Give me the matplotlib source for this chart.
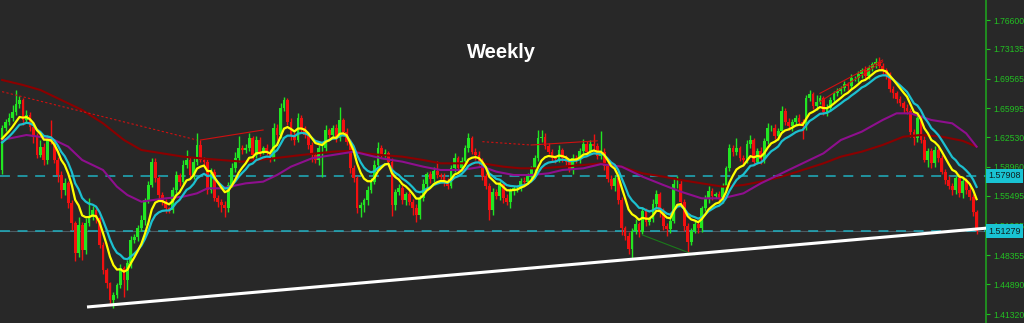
import matplotlib.pyplot as plt
import numpy as np

# weekly closes left to right (open = previous close)
first_open = 1.586
close_a = [1.636, 1.644, 1.648, 1.656, 1.665, 1.670, 1.646, 1.652, 1.638, 1.626,
           1.604, 1.614, 1.598, 1.622, 1.620, 1.598, 1.580, 1.562, 1.570, 1.546,
           1.522, 1.486, 1.520, 1.490, 1.522, 1.530, 1.538, 1.528, 1.496, 1.466,
           1.450, 1.430, 1.436, 1.448, 1.468]
close_b = [1.454, 1.474, 1.502, 1.506, 1.516, 1.526, 1.550, 1.568, 1.596, 1.576,
           1.556, 1.548, 1.540, 1.538, 1.562, 1.580, 1.572, 1.592, 1.598, 1.580,
           1.596, 1.616, 1.598, 1.596, 1.562, 1.584, 1.552, 1.548, 1.544, 1.540,
           1.568, 1.588, 1.600, 1.612]
close_c = [1.610, 1.612, 1.624, 1.604, 1.622, 1.608, 1.612, 1.608, 1.600, 1.636,
           1.628, 1.660, 1.670, 1.644, 1.627, 1.622, 1.648, 1.636, 1.628, 1.616,
           1.604, 1.598, 1.612, 1.612, 1.634, 1.628, 1.636, 1.624, 1.646, 1.632,
           1.620, 1.588, 1.576, 1.540]
close_d = [1.544, 1.550, 1.562, 1.572, 1.592, 1.612, 1.604, 1.606, 1.596, 1.544,
           1.560, 1.564, 1.550, 1.557, 1.548, 1.540, 1.532, 1.552, 1.569, 1.581,
           1.575, 1.585, 1.580, 1.578, 1.572, 1.567, 1.588, 1.600, 1.588, 1.597,
           1.612, 1.624, 1.608, 1.604, 1.596]
close_e = [1.579, 1.567, 1.538, 1.560, 1.555, 1.569, 1.552, 1.548, 1.561, 1.564,
           1.564, 1.573, 1.572, 1.579, 1.588, 1.600, 1.624, 1.626, 1.615, 1.608,
           1.600, 1.599, 1.610, 1.600, 1.596, 1.587, 1.600, 1.599, 1.609, 1.617,
           1.608, 1.617, 1.615, 1.603]
close_f = [1.608, 1.591, 1.575, 1.567, 1.576, 1.550, 1.516, 1.507, 1.491, 1.513,
           1.521, 1.512, 1.537, 1.524, 1.527, 1.545, 1.557, 1.536, 1.519, 1.515,
           1.525, 1.569, 1.569, 1.548, 1.519, 1.500, 1.513, 1.521, 1.516, 1.540,
           1.551, 1.561, 1.555, 1.557, 1.552]
close_g = [1.566, 1.588, 1.612, 1.608, 1.612, 1.600, 1.598, 1.617, 1.622, 1.596,
           1.609, 1.599, 1.621, 1.636, 1.636, 1.627, 1.633, 1.657, 1.644, 1.639,
           1.644, 1.648, 1.644, 1.639, 1.672, 1.677, 1.663, 1.668, 1.672, 1.656,
           1.660, 1.670, 1.678, 1.681]
close_h = [1.684, 1.689, 1.687, 1.696, 1.696, 1.701, 1.706, 1.699, 1.708, 1.713,
           1.716, 1.711, 1.706, 1.699, 1.683, 1.678, 1.671, 1.666, 1.660, 1.657,
           1.632, 1.624, 1.648, 1.622, 1.598, 1.609, 1.594, 1.610, 1.600, 1.584,
           1.574, 1.567, 1.562, 1.576, 1.558, 1.573, 1.562, 1.554, 1.536, 1.51279]

# wick lengths above / below the body, in units of 0.001
upper_a = [4, 3, 6, 8, 17, 5, 3, 6, 4, 3, 5, 8, 4, 6, 24, 3, 4, 5, 6, 3,
           4, 3, 10, 4, 6, 23, 5, 4, 3, 4, 3, 2, 4, 3, 5]
lower_a = [5, 3, 4, 3, 4, 5, 6, 3, 5, 8, 4, 3, 6, 5, 3, 4, 8, 10, 6, 5,
           8, 9, 4, 12, 5, 3, 4, 6, 4, 5, 6, 5, 10, 4, 3]
upper_b = [3, 4, 5, 3, 4, 6, 3, 5, 5, 4, 3, 4, 3, 2, 4, 5, 3, 6, 12, 4,
           5, 14, 6, 4, 3, 5, 3, 4, 3, 5, 4, 6, 8, 15]
lower_b = [20, 12, 6, 4, 5, 3, 6, 4, 3, 5, 6, 4, 5, 4, 3, 4, 5, 3, 4, 3,
           5, 4, 3, 6, 5, 4, 3, 6, 8, 10, 4, 3, 5, 4]
upper_c = [4, 5, 6, 3, 5, 4, 3, 5, 3, 6, 5, 6, 4, 3, 4, 5, 7, 4, 3, 3,
           4, 3, 4, 5, 6, 3, 4, 5, 16, 3, 4, 3, 4, 3]
lower_c = [5, 4, 3, 6, 4, 5, 3, 4, 5, 3, 6, 4, 3, 4, 5, 6, 3, 5, 4, 5,
           8, 4, 6, 35, 4, 3, 5, 4, 3, 5, 4, 6, 5, 6]
upper_d = [4, 3, 5, 4, 6, 8, 4, 5, 3, 4, 3, 5, 4, 3, 4, 3, 5, 4, 6, 3,
           4, 5, 12, 3, 4, 5, 4, 6, 3, 5, 4, 6, 3, 4, 5]
lower_d = [10, 8, 6, 4, 3, 5, 4, 3, 5, 13, 6, 4, 5, 6, 4, 8, 8, 5, 3, 4,
           5, 3, 4, 3, 5, 4, 3, 5, 4, 3, 4, 5, 3, 6, 4]
upper_e = [4, 3, 4, 5, 3, 4, 3, 5, 4, 3, 4, 3, 5, 4, 3, 4, 10, 8, 5, 4,
           3, 4, 6, 3, 4, 3, 5, 4, 3, 6, 4, 5, 12, 4]
lower_e = [5, 4, 12, 6, 4, 5, 6, 4, 8, 5, 4, 3, 4, 3, 5, 4, 3, 5, 4, 3,
           5, 4, 3, 5, 4, 3, 6, 4, 5, 3, 4, 3, 5, 4]
upper_f = [25, 4, 3, 5, 4, 3, 4, 3, 5, 4, 6, 3, 5, 4, 3, 6, 5, 3, 4, 3,
           4, 8, 10, 5, 3, 4, 3, 5, 4, 3, 5, 6, 4, 3, 4]
lower_f = [4, 5, 3, 4, 6, 5, 8, 5, 6, 10, 4, 6, 3, 5, 4, 3, 4, 6, 5, 8,
           4, 3, 4, 5, 6, 12, 4, 3, 5, 4, 3, 4, 5, 3, 4]
upper_g = [4, 3, 5, 4, 12, 3, 4, 5, 6, 3, 4, 5, 3, 6, 4, 5, 3, 6, 4, 5,
           3, 4, 5, 3, 4, 5, 3, 8, 4, 3, 5, 4, 3, 4]
lower_g = [5, 4, 3, 5, 4, 3, 6, 4, 5, 4, 3, 6, 5, 4, 3, 4, 5, 3, 4, 5,
           6, 4, 3, 16, 5, 3, 4, 5, 3, 4, 5, 3, 4, 3]
upper_h = [3, 4, 3, 5, 3, 4, 3, 5, 4, 3, 5, 6, 4, 3, 5, 4, 3, 4, 3, 5,
           4, 3, 6, 4, 5, 3, 4, 5, 3, 4, 3, 5, 4, 3, 5, 4, 3, 4, 3, 2]
lower_h = [4, 3, 5, 4, 3, 4, 5, 3, 4, 3, 4, 3, 5, 4, 3, 5, 4, 3, 5, 4,
           6, 8, 5, 4, 3, 8, 6, 5, 4, 3, 5, 4, 6, 5, 4, 6, 5, 4, 5, 3]

# slow moving averages (purple, dark red), read at a few bars
purple_idx = [0, 7, 14, 19, 23, 29, 33, 36, 40, 47, 52, 56, 59, 63, 70, 75, 79, 83, 89, 95,
              101, 104, 109, 115, 121, 126, 132, 138, 142, 147, 152, 157, 161, 167, 172, 178,
              184, 190, 195, 201, 207, 213, 218, 224, 230, 236, 241, 247, 253, 257, 261, 267,
              273, 277, 280]
purple_val = [1.622, 1.628, 1.624, 1.614, 1.598, 1.586, 1.566, 1.556, 1.548, 1.552, 1.554,
              1.558, 1.564, 1.564, 1.570, 1.572, 1.580, 1.590, 1.600, 1.604, 1.608, 1.605,
              1.600, 1.596, 1.590, 1.586, 1.586, 1.590, 1.584, 1.580, 1.580, 1.582, 1.586,
              1.588, 1.593, 1.590, 1.578, 1.568, 1.560, 1.552, 1.552, 1.558, 1.570, 1.582,
              1.594, 1.606, 1.622, 1.632, 1.646, 1.654, 1.654, 1.646, 1.642, 1.630, 1.614]
maroon_idx = [0, 6, 11, 17, 23, 29, 35, 40, 46, 52, 57, 63, 69, 78, 86, 95, 101, 104, 109,
              115, 121, 126, 138, 144, 149, 155, 161, 167, 172, 178, 184, 190, 195, 201, 207,
              213, 218, 224, 230, 236, 241, 247, 253, 259, 264, 270, 276, 280]
maroon_val = [1.694, 1.688, 1.682, 1.670, 1.658, 1.642, 1.622, 1.610, 1.606, 1.602, 1.600,
              1.598, 1.596, 1.600, 1.604, 1.608, 1.609, 1.606, 1.604, 1.602, 1.598, 1.594,
              1.594, 1.590, 1.588, 1.588, 1.590, 1.592, 1.594, 1.590, 1.582, 1.578, 1.574,
              1.570, 1.566, 1.568, 1.572, 1.578, 1.586, 1.594, 1.602, 1.608, 1.616, 1.626,
              1.628, 1.626, 1.621, 1.614]

# ema start values (first visible point of yellow / cyan lines)
fast_seed = 1.620
slow_seed = 1.616

# level lines and drawn trend lines
levels = [1.57908, 1.51279]
trend_idx = [24.4, 283.3]
trend_val = [1.4216, 1.5164]
red_dotted = [([0, 56], [1.680, 1.622]), ([138, 152], [1.620, 1.616])]
red_solid = [([57, 75], [1.622, 1.634]), ([152, 171], [1.616, 1.621]),
             ([235, 253], [1.678, 1.718]), ([235, 253], [1.668, 1.716])]
green_line = ([184, 199], [1.508, 1.484])

tick_vals = [1.76600, 1.73135, 1.69565, 1.65995, 1.62530, 1.58960, 1.55495,
             1.51925, 1.48355, 1.44890, 1.41320]


def ema(values, span, seed):
    alpha = 2.0 / (span + 1)
    out = []
    prev = seed
    for v in values:
        prev = prev + alpha * (v - prev)
        out.append(prev)
    return np.array(out)


closes = np.array(close_a + close_b + close_c + close_d + close_e + close_f + close_g + close_h)
upper = np.array(upper_a + upper_b + upper_c + upper_d + upper_e + upper_f + upper_g + upper_h) * 0.001
lower = np.array(lower_a + lower_b + lower_c + lower_d + lower_e + lower_f + lower_g + lower_h) * 0.001
opens = np.concatenate([[first_open], closes[:-1]])
highs = np.maximum(opens, closes) + upper
lows = np.minimum(opens, closes) - lower
idx = np.arange(len(closes))

bg = '#282828'
up_col = '#22e622'
dn_col = '#f21010'
colors = np.where(closes >= opens, up_col, dn_col)

fig = plt.figure(figsize=(10.24, 3.23), dpi=100)
fig.patch.set_facecolor(bg)
ax = fig.add_axes([0, 0, 986 / 1024, 1])
ax.set_facecolor(bg)

# candles
ax.vlines(idx, lows, highs, colors=colors, lw=1.0, zorder=2)
body = np.maximum(np.abs(closes - opens), 0.0008)
ax.bar(idx, body, bottom=np.minimum(opens, closes), width=0.8, color=colors,
       linewidth=0, zorder=2)

# level lines
ax.axhline(levels[1], color='#4d5a60', lw=0.8, zorder=1)
for lv in levels:
    ax.axhline(lv, color='#1fb0c0', lw=1.1, dashes=(6.5, 5), zorder=1)

# moving averages
ax.plot(maroon_idx, maroon_val, color='#8b0000', lw=1.5, zorder=3)
ax.plot(purple_idx, purple_val, color='#8e0f8e', lw=1.5, zorder=3)
ax.plot(idx, ema(closes, 13, slow_seed), color='#1cc0d0', lw=1.6, zorder=4)
ax.plot(idx, ema(closes, 8, fast_seed), color='#ffff00', lw=1.6, zorder=5)

# drawn lines
for xs, ys in red_dotted:
    ax.plot(xs, ys, color='#d01010', lw=0.8, ls=(0, (2, 2)), zorder=3)
for xs, ys in red_solid:
    ax.plot(xs, ys, color='#d01010', lw=0.8, zorder=3)
ax.plot(green_line[0], green_line[1], color='#1a7a1a', lw=0.8, zorder=3)
ax.plot(trend_idx, trend_val, color='white', lw=2.2, zorder=6, clip_on=False,
        solid_capstyle='butt')

ax.set_xlim(-0.6, 282.7)
ax.set_ylim(1.4024, 1.790)

for s in ['left', 'top', 'bottom']:
    ax.spines[s].set_visible(False)
ax.spines['right'].set_color('#1fa01f')
ax.spines['right'].set_linewidth(1.2)
ax.set_xticks([])
ax.yaxis.tick_right()
ax.set_yticks(tick_vals)
ax.set_yticklabels(['%.5f' % v for v in tick_vals])
ax.tick_params(axis='y', colors='#22c022', labelcolor='#22c022', length=3,
               width=0.8, pad=2, labelsize=6.2)
for lab in ax.get_yticklabels():
    lab.set_family('Liberation Sans')

for lv in levels:
    ax.text(1.002, lv, '%.5f' % lv, transform=ax.get_yaxis_transform(),
            fontsize=6.5, family='Liberation Sans', color='#102020', va='center',
            ha='left', zorder=10, clip_on=False,
            bbox=dict(boxstyle='square,pad=0.25', fc='#19c3d3', ec='none'))

fig.text(0.49, 0.836, 'Weekly', color='white', fontsize=14.5, fontweight='bold',
         family='Liberation Sans', ha='center', va='center')

fig.savefig('out.png', dpi=100, facecolor=bg)
